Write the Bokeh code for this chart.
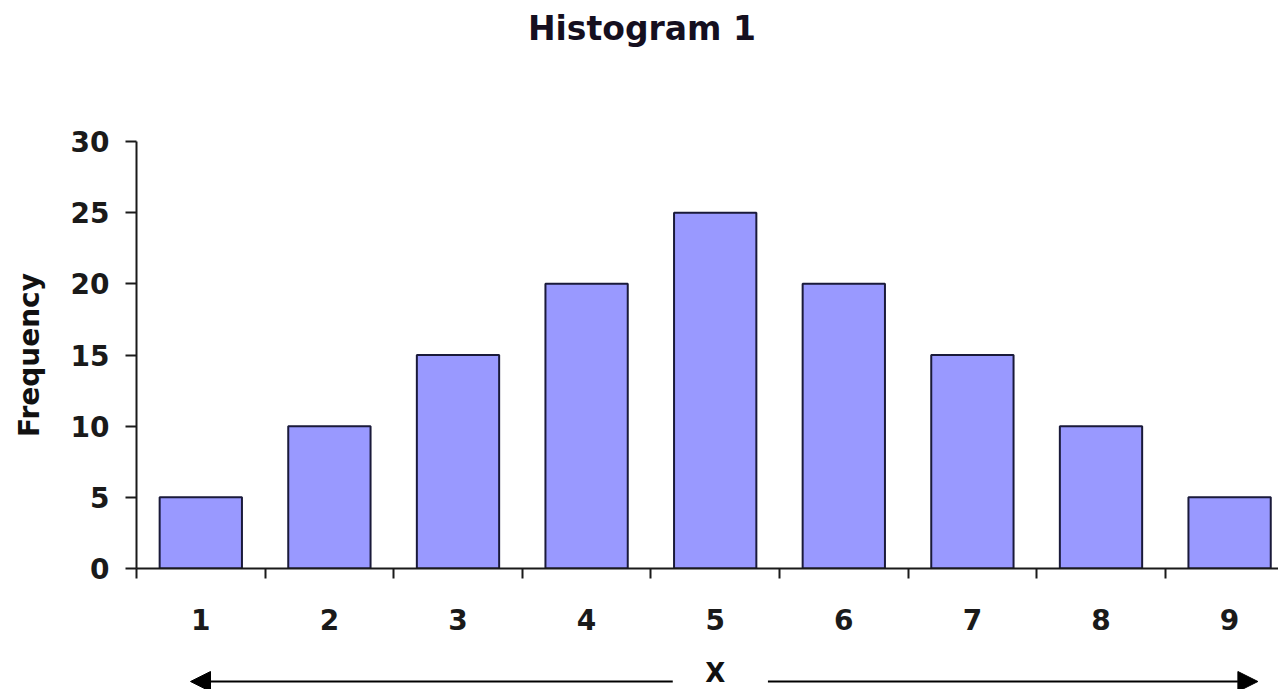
from bokeh.plotting import figure
from bokeh.layouts import column
from bokeh.models import FixedTicker, Arrow, NormalHead, Range1d
from bokeh.core.properties import value
from bokeh.embed import file_html
from bokeh.resources import INLINE

# Data
categories = [1, 2, 3, 4, 5, 6, 7, 8, 9]
frequency = [5, 10, 15, 20, 25, 20, 15, 10, 5]
y_ticks = [0, 5, 10, 15, 20, 25, 30]
title_text = "Histogram 1"
x_label = "X"
y_label = "Frequency"

FONT = "DejaVu Sans"
INK = "#1a1a1a"
W = 1278

x_range = Range1d(0.5, 0.5 + 1142 / 128.6)

# top strip: chart title (shares the x range, frame aligned with the chart)
t = figure(width=W, height=60, output_backend="svg", toolbar_location=None,
           x_range=x_range, y_range=Range1d(0, 60),
           x_axis_location=None, y_axis_location=None,
           min_border_left=136, min_border_right=0, min_border_top=0,
           min_border_bottom=0)
t.outline_line_color = None
t.grid.visible = False
t.text(x=[4.43], y=[32], text=[title_text], text_font=value(FONT),
       text_font_size="33px", text_font_style="bold", text_color="#150f1f",
       text_align="center", text_baseline="middle")

# main chart
p = figure(width=W, height=584, output_backend="svg", toolbar_location=None,
           x_range=x_range, y_range=(0, 30),
           min_border_left=136, min_border_right=0, min_border_top=81,
           min_border_bottom=76)
p.outline_line_color = None
p.grid.visible = False

p.vbar(x=categories, top=frequency, width=0.64, fill_color="#9999FF",
       line_color="#1a1a3a", line_width=2)

# x axis
xa = p.xaxis[0]
xa.ticker = FixedTicker(ticks=categories,
                        minor_ticks=[c - 0.5 for c in categories] + [categories[-1] + 0.5])
xa.major_tick_out = 0
xa.major_tick_in = 0
xa.minor_tick_out = 10
xa.minor_tick_in = 0
xa.minor_tick_line_color = INK
xa.minor_tick_line_width = 2
xa.axis_line_color = INK
xa.axis_line_width = 2
xa.major_label_standoff = 30
xa.major_label_text_font = FONT
xa.major_label_text_font_size = "28px"
xa.major_label_text_font_style = "bold"
xa.major_label_text_color = INK

# y axis
ya = p.yaxis[0]
ya.ticker = FixedTicker(ticks=y_ticks)
ya.minor_tick_line_color = None
ya.major_tick_out = 11
ya.major_tick_in = 0
ya.major_tick_line_color = INK
ya.major_tick_line_width = 2
ya.axis_line_color = INK
ya.axis_line_width = 2
ya.major_label_standoff = 16
ya.major_label_text_font = FONT
ya.major_label_text_font_size = "28px"
ya.major_label_text_font_style = "bold"
ya.major_label_text_color = INK
ya.axis_label = y_label
ya.axis_label_text_font = FONT
ya.axis_label_text_font_size = "28px"
ya.axis_label_text_font_style = "bold"
ya.axis_label_text_color = "#111111"
ya.axis_label_standoff = 22

# bottom strip: "X" label with arrows, sharing the x range
q = figure(width=W, height=45, output_backend="svg", toolbar_location=None,
           x_range=x_range, y_range=Range1d(0, 45),
           x_axis_location=None, y_axis_location=None,
           min_border_left=136, min_border_right=0, min_border_top=0,
           min_border_bottom=0)
q.outline_line_color = None
q.grid.visible = False

x_mid = categories[len(categories) // 2]
q.text(x=[x_mid], y=[17], text=[x_label], text_font=value(FONT),
       text_font_size="26px", text_font_style="bold", text_color="#111111",
       text_align="center", text_baseline="middle")

arrow_y = 8
q.add_layout(Arrow(end=NormalHead(size=20, fill_color="black", line_color="black"),
                   x_start=4.67, y_start=arrow_y, x_end=0.92, y_end=arrow_y,
                   line_width=2, line_color="black"))
q.add_layout(Arrow(end=NormalHead(size=20, fill_color="black", line_color="black"),
                   x_start=5.41, y_start=arrow_y, x_end=9.22, y_end=arrow_y,
                   line_width=2, line_color="black"))

layout = column(t, p, q, spacing=0)
open("out.html", "w").write(file_html(layout, INLINE))
